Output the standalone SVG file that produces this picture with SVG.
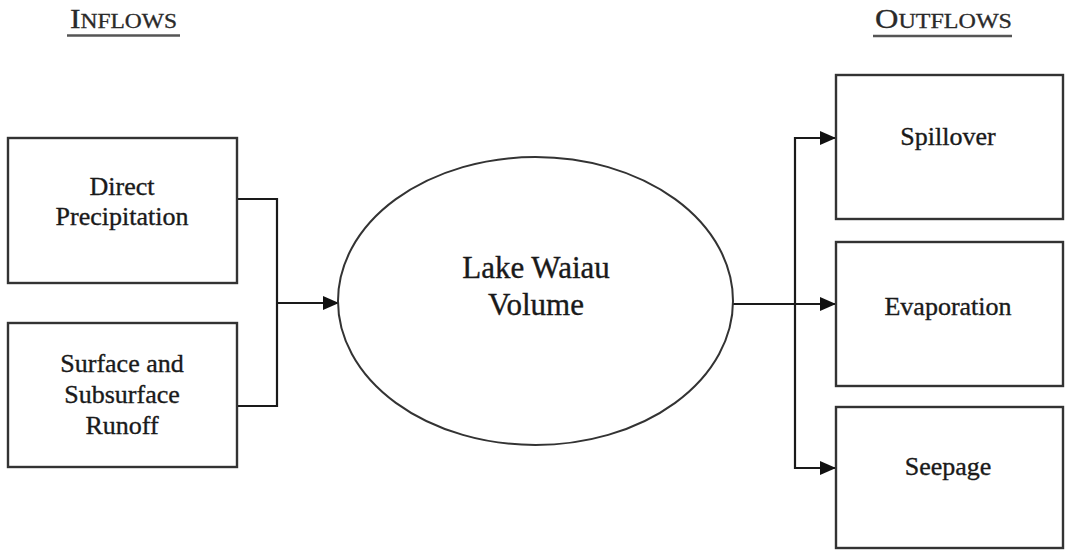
<svg xmlns="http://www.w3.org/2000/svg" width="1065" height="551" viewBox="0 0 1065 551">
<style>
.box{fill:#fff;stroke:#333;stroke-width:2.4}
.t{font-family:"Liberation Serif","Times New Roman",serif;fill:#1a1a1a;stroke:#1a1a1a;stroke-width:0.35;text-anchor:middle}
.n{font-size:26px}
.c{fill:none;stroke:#1a1a1a;stroke-width:2.2}
.hd{font-family:"Liberation Serif","Times New Roman",serif;fill:#2a2a2a;stroke:#2a2a2a;stroke-width:0.3}
</style>
<defs>
<marker id="ah" viewBox="0 0 16 14" refX="16" refY="7" markerWidth="16" markerHeight="14" markerUnits="userSpaceOnUse" orient="auto">
<path d="M0,0 L16,7 L0,14 Z" fill="#111"/>
</marker>
</defs>
<rect width="1065" height="551" fill="#fff"/>
<g id="hdr-in">
<text class="hd" x="70" y="28" textLength="107" lengthAdjust="spacingAndGlyphs"><tspan font-size="27">I</tspan><tspan font-size="20">NFLOWS</tspan></text>
<line x1="67" y1="35.5" x2="180" y2="35.5" stroke="#555" stroke-width="2.5"/>
</g>
<g id="hdr-out">
<text class="hd" x="875" y="28" textLength="137" lengthAdjust="spacingAndGlyphs"><tspan font-size="27">O</tspan><tspan font-size="20">UTFLOWS</tspan></text>
<line x1="873" y1="36" x2="1012" y2="36" stroke="#555" stroke-width="2.5"/>
</g>
<g id="connectors">
<polyline class="c" points="237,199 277,199 277,406 237,406"/>
<line class="c" x1="277" y1="303" x2="339" y2="303" marker-end="url(#ah)"/>
<line class="c" x1="733" y1="304" x2="836" y2="304" marker-end="url(#ah)"/>
<polyline class="c" points="820,138 795,138 795,468 820,468"/>
<line class="c" x1="795" y1="138" x2="836" y2="138" marker-end="url(#ah)"/>
<line class="c" x1="795" y1="468" x2="836" y2="468" marker-end="url(#ah)"/>
</g>
<g id="direct-precipitation">
<rect class="box" x="8" y="138" width="229" height="145"/>
<text class="t n" x="122" y="195">Direct</text>
<text class="t n" x="122" y="225">Precipitation</text>
</g>
<g id="runoff">
<rect class="box" x="8" y="323" width="229" height="144"/>
<text class="t n" x="122" y="372">Surface and</text>
<text class="t n" x="122" y="403">Subsurface</text>
<text class="t n" x="122" y="434">Runoff</text>
</g>
<g id="lake">
<ellipse cx="535.5" cy="301" rx="197.5" ry="144" fill="#fff" stroke="#333" stroke-width="2"/>
<text class="t" font-size="31" x="536" y="278">Lake Waiau</text>
<text class="t" font-size="31" x="536" y="315">Volume</text>
</g>
<g id="spillover">
<rect class="box" x="836" y="75" width="227" height="144"/>
<text class="t n" x="948" y="145">Spillover</text>
</g>
<g id="evaporation">
<rect class="box" x="836" y="242" width="227" height="144"/>
<text class="t n" x="948" y="315">Evaporation</text>
</g>
<g id="seepage">
<rect class="box" x="836" y="407" width="227" height="141"/>
<text class="t n" x="948" y="475">Seepage</text>
</g>
</svg>
